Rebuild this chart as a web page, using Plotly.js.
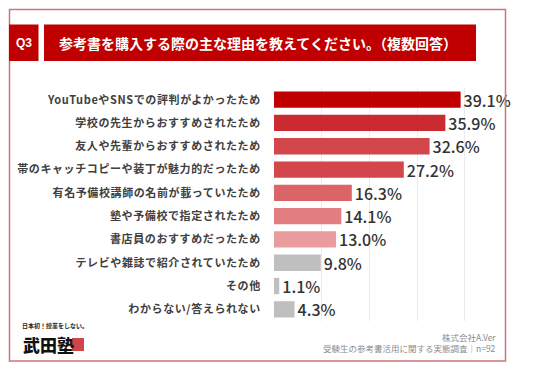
<!DOCTYPE html>
<html><head><meta charset="utf-8">
<script src="https://cdn.plot.ly/plotly-3.0.1.min.js"></script>
<style>body{margin:0;background:#fff}#chart{width:536px;height:371px}
#chart .ytick text{letter-spacing:0.6px}</style>
</head><body><div id="chart"></div>
<script>
const categories = [
  "YouTubeやSNSでの評判がよかったため",
  "学校の先生からおすすめされたため",
  "友人や先輩からおすすめされたため",
  "帯のキャッチコピーや装丁が魅力的だったため",
  "有名予備校講師の名前が載っていたため",
  "塾や予備校で指定されたため",
  "書店員のおすすめだったため",
  "テレビや雑誌で紹介されていたため",
  "その他",
  "わからない/答えられない"
];
const values = [39.1, 35.9, 32.6, 27.2, 16.3, 14.1, 13.0, 9.8, 1.1, 4.3];
const barColors = ["#C00000","#CB2B30","#D2474C","#D3474C","#DA6468","#E07E82","#E99B9E","#BFBFBF","#BFBFBF","#BFBFBF"];
const titleText = "参考書を購入する際の主な理由を教えてください。（複数回答）";
const questionLabel = "Q3";
const sourceLines = ["株式会社A.Ver", "受験生の参考書活用に関する実態調査｜n=92"];

const W = 536, H = 371;
const px = x => x / W, py = y => 1 - y / H;
const font = "'Noto Sans CJK JP', 'Noto Sans', sans-serif";

const trace = {
  type: "bar", orientation: "h",
  x: values, y: categories,
  marker: {color: barColors},
  width: 0.7,
  text: values.map(v => v.toFixed(1) + "%"),
  textposition: "outside",
  constraintext: "none",
  textfont: {family: font, size: 16, color: "#333333", weight: 500},
  cliponaxis: false,
  hoverinfo: "skip"
};

const layout = {
  width: W, height: H,
  margin: {l: 0, r: 0, t: 0, b: 0},
  paper_bgcolor: "#ffffff", plot_bgcolor: "#ffffff",
  showlegend: false,
  font: {family: font},
  xaxis: {
    domain: [px(274), px(505)],
    range: [0, 48.4],
    tickvals: [10, 20, 30, 40],
    showticklabels: false,
    showgrid: true, gridcolor: "#EBEBEB", gridwidth: 1,
    zeroline: false, showline: false, fixedrange: true
  },
  yaxis: {
    domain: [py(321), py(88)],
    autorange: "reversed",
    showgrid: false, zeroline: false, showline: false,
    ticks: "outside", ticklen: 10, tickcolor: "rgba(0,0,0,0)",
    tickfont: {family: font, size: 11, color: "#404040", weight: 700},
    fixedrange: true
  },
  shapes: [
    {type: "rect", xref: "paper", yref: "paper", x0: px(9.5), x1: px(505.5), y0: py(361), y1: py(9.5),
     line: {color: "#C9777B", width: 1.5}, fillcolor: "rgba(0,0,0,0)"},
    {type: "rect", xref: "paper", yref: "paper", x0: px(9), x1: px(38.5), y0: py(61), y1: py(24.5),
     line: {width: 0}, fillcolor: "#C00000"},
    {type: "rect", xref: "paper", yref: "paper", x0: px(44), x1: px(476), y0: py(61), y1: py(24.5),
     line: {width: 0}, fillcolor: "#C00000"},
    {type: "rect", xref: "paper", yref: "paper", x0: px(72), x1: px(84), y0: py(351), y1: py(338),
     line: {width: 0}, fillcolor: "#D0454A"}
  ],
  annotations: [
    {xref: "paper", yref: "paper", x: px(23.5), y: py(43), xanchor: "center", yanchor: "middle",
     text: questionLabel, showarrow: false, font: {family: "Liberation Sans, Arial, sans-serif", size: 12, color: "#ffffff", weight: 700}},
    {xref: "paper", yref: "paper", x: px(57), y: py(43), xanchor: "left", yanchor: "middle",
     text: titleText, showarrow: false, font: {family: font, size: 14, color: "#ffffff", weight: 700}},
    {xref: "paper", yref: "paper", x: px(498), y: py(337), xanchor: "right", yanchor: "middle",
     text: sourceLines[0], showarrow: false, font: {family: font, size: 8.5, color: "#8C8C8C"}},
    {xref: "paper", yref: "paper", x: px(498), y: py(347.5), xanchor: "right", yanchor: "middle",
     text: sourceLines[1], showarrow: false, font: {family: font, size: 8.5, color: "#8C8C8C"}},
    {xref: "paper", yref: "paper", x: px(20), y: py(325), xanchor: "left", yanchor: "middle",
     text: "日本初！授業をしない。", showarrow: false, font: {family: font, size: 6, color: "#222222", weight: 700}},
    {xref: "paper", yref: "paper", x: px(21), y: py(344), xanchor: "left", yanchor: "middle",
     text: "武田塾", showarrow: false, font: {family: font, size: 17, color: "#111111", weight: 900}}
  ]
};

Plotly.newPlot("chart", [trace], layout, {displayModeBar: false, staticPlot: true});
</script></body></html>
